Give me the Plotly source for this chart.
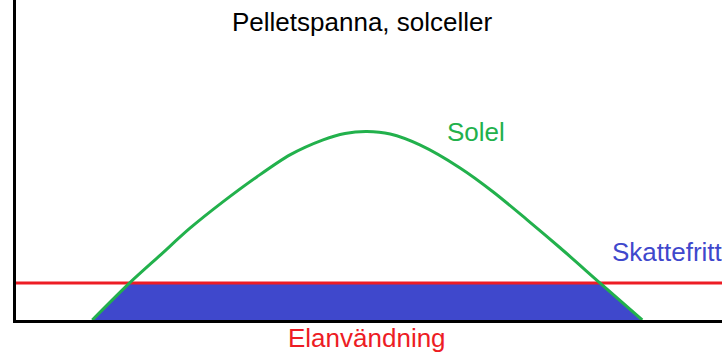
import numpy as np
import plotly.graph_objects as go

# Solel curve (arbitrary units)
sol_x = [10.8, 16.1, 20.4, 24.6, 29.3, 34.1, 38.8, 43.5, 46.6, 49.7,
         53.0, 57.2, 62.9, 67.6, 72.4, 77.1, 82.7, 88.7]
sol_y = [0.0, 11.6, 20.2, 28.6, 36.9, 44.7, 51.6, 56.3, 58.3, 58.9,
         58.1, 54.7, 47.5, 40.0, 31.3, 22.5, 11.6, 0.0]

# Elanvändning, constant level
el_x = [0, 100]
el_level = 11.6

GREEN = "#22b14c"
RED = "#ed1c24"
BLUE = "#3f48cc"
FONT = "Arial, Liberation Sans, sans-serif"


def _main():
    # skattefritt = the part of solel that is used directly
    fri_y = np.minimum(np.array(sol_y), el_level)

    fig = go.Figure()

    fig.add_trace(go.Scatter(
        x=sol_x, y=fri_y,
        mode="lines",
        line=dict(width=0, color=BLUE),
        fill="tozeroy",
        fillcolor=BLUE,
        hoverinfo="skip",
    ))
    fig.add_trace(go.Scatter(
        x=el_x, y=[el_level] * len(el_x),
        mode="lines",
        line=dict(width=3, color=RED),
    ))
    fig.add_trace(go.Scatter(
        x=sol_x, y=sol_y,
        mode="lines",
        line=dict(width=3, color=GREEN, shape="spline", smoothing=0.8),
    ))

    # text, x (data), y (paper), anchor, colour
    labels = [
        ("Pelletspanna, solceller", 49.0, 0.930, "center", "black"),
        ("Solel", 65.1, 0.5875, "center", GREEN),
        ("Skattefritt", 84.1, 0.211, "left", BLUE),
        ("Elanvändning", 49.7, -0.055, "center", RED),
    ]
    for text, x, y, anchor, col in labels:
        fig.add_annotation(
            x=x, y=y, xref="x", yref="paper",
            text=text, showarrow=False,
            xanchor=anchor, yanchor="middle",
            font=dict(family=FONT, size=26, color=col),
        )

    fig.update_xaxes(range=[0, 100], showline=True, linewidth=3,
                     linecolor="black", showgrid=False, zeroline=False,
                     showticklabels=False, ticks="")
    fig.update_yaxes(range=[0, 100], showline=True, linewidth=3,
                     linecolor="black", showgrid=False, zeroline=False,
                     showticklabels=False, ticks="")

    fig.update_layout(
        width=722, height=358,
        margin=dict(l=16, r=0, t=0, b=38),
        paper_bgcolor="white",
        plot_bgcolor="white",
        showlegend=False,
    )

    # drop the browser's default body margin so the figure sits at 0,0
    fig.write_html("out.html", config={"displayModeBar": False},
                   post_script="document.body.style.margin='0';")


if __name__ == "__main__":
    _main()
